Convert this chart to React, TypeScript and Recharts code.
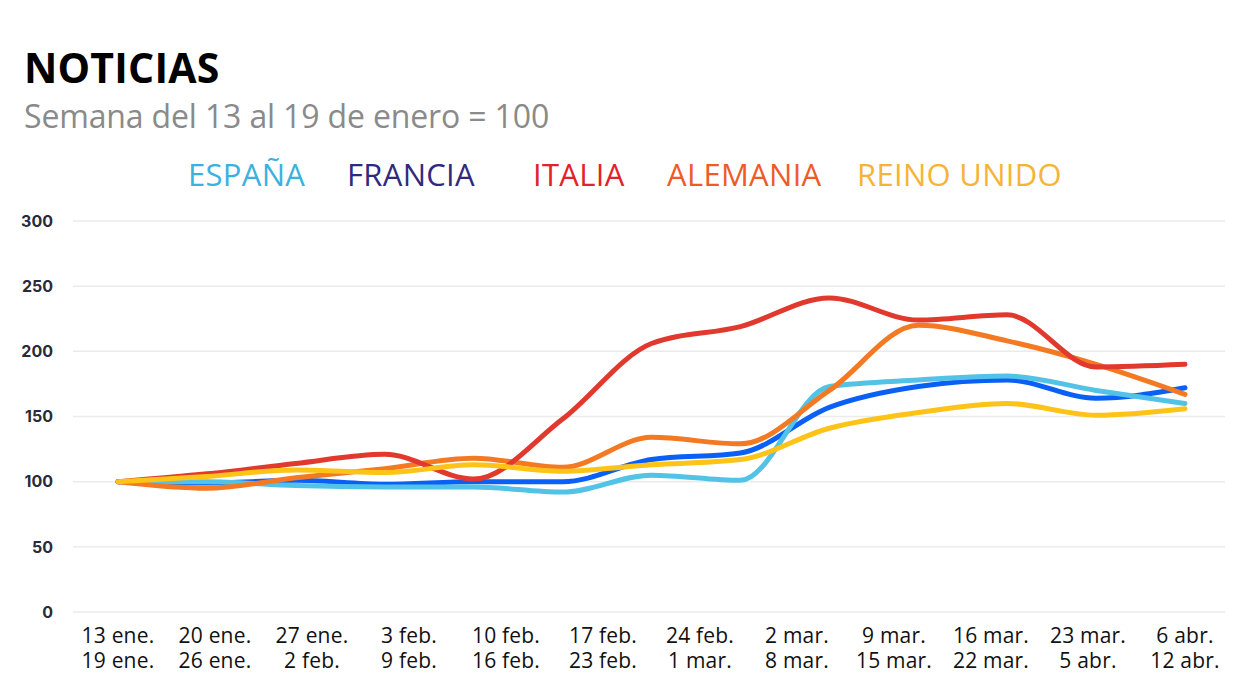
import { LineChart, Line, XAxis, YAxis, CartesianGrid } from "recharts";

// 13 weekly points, starting with the week of 13-19 Jan
const weeks = [
  "13 ene.", "20 ene.", "27 ene.", "3 feb.", "10 feb.", "17 feb.", "24 feb.",
  "2 mar.", "9 mar.", "16 mar.", "23 mar.", "30 mar.", "6 abr.",
];

// axis labels (12 of them, spread across the whole range)
const labelTop = [
  "13 ene.", "20 ene.", "27 ene.", "3 feb.", "10 feb.", "17 feb.",
  "24 feb.", "2 mar.", "9 mar.", "16 mar.", "23 mar.", "6 abr.",
];
const labelBottom = [
  "19 ene.", "26 ene.", "2 feb.", "9 feb.", "16 feb.", "23 feb.",
  "1 mar.", "8 mar.", "15 mar.", "22 mar.", "5 abr.", "12 abr.",
];

const espana = [100, 100, 97, 96, 96, 92, 105, 101, 173, 178, 181, 170, 160];
const francia = [100, 99, 101, 98, 100, 100, 117, 122, 157, 173, 178, 164, 172];
const italia = [100, 106, 114, 121, 102, 148, 206, 219, 241, 224, 228, 188, 190];
const alemania = [100, 95, 103, 110, 118, 111, 134, 129, 170, 220, 208, 190, 167];
const reinoUnido = [100, 104, 109, 107, 113, 108, 113, 117, 141, 153, 160, 151, 156];

const yTicks = [0, 50, 100, 150, 200, 250, 300];

const data = weeks.map((week, i) => ({
  i,
  week,
  espana: espana[i],
  francia: francia[i],
  italia: italia[i],
  alemania: alemania[i],
  reinoUnido: reinoUnido[i],
}));

const xTicks = labelTop.map((_, i) => (i * (weeks.length - 1)) / (labelTop.length - 1));

// drawing order matters for overlaps
const series = [
  { key: "francia", stroke: "#0a5ff5" },
  { key: "espana", stroke: "#52c3e6" },
  { key: "alemania", stroke: "#f37a22" },
  { key: "italia", stroke: "#e2392f" },
  { key: "reinoUnido", stroke: "#fdc316" },
];

const legend = [
  { name: "ESPAÑA", color: "#3bb1e0", left: 188 },
  { name: "FRANCIA", color: "#2f2a80", left: 347 },
  { name: "ITALIA", color: "#e1222b", left: 533 },
  { name: "ALEMANIA", color: "#ee5b29", left: 667 },
  { name: "REINO UNIDO", color: "#f6b437", left: 857 },
];

const XTick = (props: any) => {
  const { x, y, index } = props;
  return (
    <text
      x={x}
      y={y}
      textAnchor="middle"
      fill="#111"
      fontSize={21}
      fontFamily="'Open Sans', sans-serif"
      letterSpacing={0.2}
    >
      <tspan x={x} dy={31}>{labelTop[index]}</tspan>
      <tspan x={x} dy={25}>{labelBottom[index]}</tspan>
    </text>
  );
};

export default function App() {
  return (
    <div
      style={{
        position: "absolute",
        left: 0,
        top: 0,
        width: 1248,
        height: 698,
        background: "#fff",
        fontFamily: "'Open Sans', sans-serif",
      }}
    >
      <div
        style={{
          position: "absolute",
          left: 24,
          top: 47,
          fontSize: 41,
          lineHeight: 1,
          fontWeight: 700,
          color: "#000",
          letterSpacing: 0.2,
        }}
      >
        NOTICIAS
      </div>
      <div
        style={{
          position: "absolute",
          left: 24,
          top: 100,
          fontSize: 32,
          lineHeight: 1,
          color: "#8a8a8a",
          letterSpacing: -0.15,
        }}
      >
        Semana del 13 al 19 de enero = 100
      </div>
      {legend.map((l) => (
        <div
          key={l.name}
          style={{
            position: "absolute",
            left: l.left,
            top: 159,
            fontSize: 31,
            lineHeight: 1,
            color: l.color,
            letterSpacing: 0.3,
          }}
        >
          {l.name}
        </div>
      ))}
      <div style={{ position: "absolute", left: 0, top: 0 }}>
        <LineChart
          width={1248}
          height={698}
          data={data}
          margin={{ top: 221, right: 23, bottom: 6, left: 0 }}
        >
          <CartesianGrid vertical={false} stroke="#ebebeb" strokeWidth={1.5} />
          <XAxis
            dataKey="i"
            type="number"
            domain={[0, weeks.length - 1]}
            ticks={xTicks}
            interval={0}
            padding={{ left: 45, right: 40 }}
            axisLine={false}
            tickLine={false}
            tickSize={0}
            tickMargin={0}
            height={80}
            tick={<XTick />}
          />
          <YAxis
            domain={[0, 300]}
            ticks={yTicks}
            width={73}
            axisLine={false}
            tickLine={false}
            tickSize={0}
            tickMargin={20}
            tick={{
              fill: "#2a2a38",
              fontSize: 16,
              fontWeight: 700,
              fontFamily: "Inter, sans-serif",
            }}
          />
          {series.map((s) => (
            <Line
              key={s.key}
              type="monotone"
              dataKey={s.key}
              stroke={s.stroke}
              strokeWidth={5}
              strokeLinecap="round"
              dot={false}
              activeDot={false}
              isAnimationActive={false}
            />
          ))}
        </LineChart>
      </div>
    </div>
  );
}
